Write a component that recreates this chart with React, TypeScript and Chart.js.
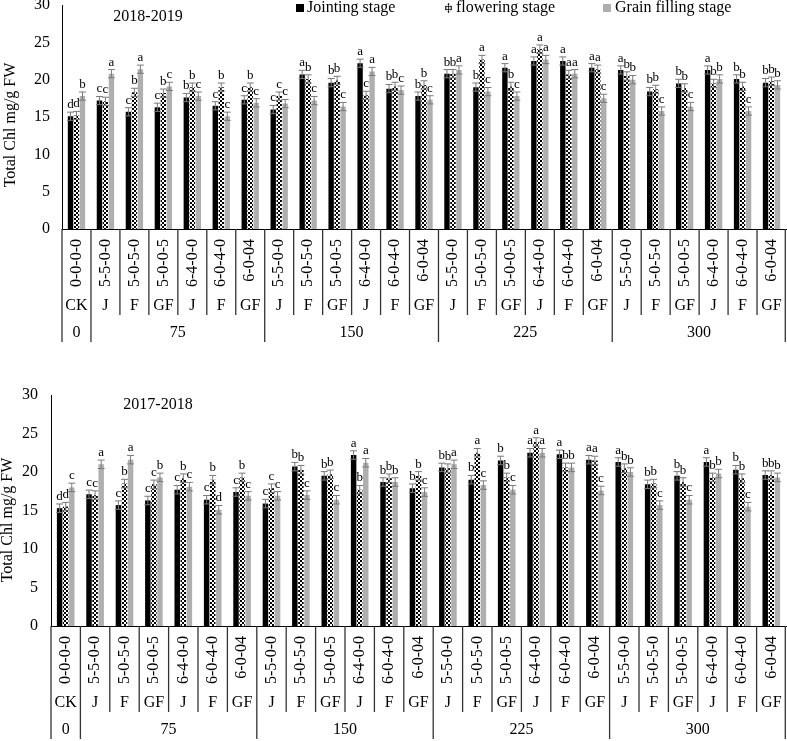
import { useEffect, useRef } from 'react';
import { Chart, registerables } from 'chart.js';

Chart.register(...registerables);

const FONT = '"Liberation Serif", "Times New Roman", serif';

// category axis: fertilizer code / stage / N level
const CODES = [
    '0-0-0-0',
    '5-5-0-0', '5-0-5-0', '5-0-0-5', '6-4-0-0', '6-0-4-0', '6-0-04',
    '5-5-0-0', '5-0-5-0', '5-0-0-5', '6-4-0-0', '6-0-4-0', '6-0-04',
    '5-5-0-0', '5-0-5-0', '5-0-0-5', '6-4-0-0', '6-0-4-0', '6-0-04',
    '5-5-0-0', '5-0-5-0', '5-0-0-5', '6-4-0-0', '6-0-4-0', '6-0-04',
];
const STAGES = [
    'CK',
    'J', 'F', 'GF', 'J', 'F', 'GF',
    'J', 'F', 'GF', 'J', 'F', 'GF',
    'J', 'F', 'GF', 'J', 'F', 'GF',
    'J', 'F', 'GF', 'J', 'F', 'GF',
];
const N_LEVELS = ['0', '75', '150', '225', '300'];
const N_SPANS = [1, 6, 6, 6, 6];
const SERIES = ['Jointing stage', 'flowering stage', 'Grain filling stage'];
const ERR = 0.55;

// 2018-2019
const JOINT_1819 = [15.1, 17.2, 15.7, 16.3, 17.6, 16.5, 17.3, 16.0, 20.7, 19.6, 22.2, 18.8, 17.8, 20.8, 19.0, 21.6, 22.5, 22.5, 21.6, 21.3, 18.4, 19.5, 21.3, 20.1, 19.6];
const FLOWER_1819 = [15.2, 17.1, 18.3, 18.2, 19.0, 19.0, 19.0, 17.8, 20.1, 19.9, 17.9, 19.1, 19.3, 20.8, 22.7, 19.1, 24.1, 20.7, 21.4, 20.5, 18.7, 18.9, 19.5, 19.1, 19.8];
const GRAIN_1819 = [17.8, 20.8, 21.4, 19.1, 17.8, 15.1, 16.9, 16.8, 17.2, 16.4, 21.1, 18.6, 17.3, 21.3, 18.4, 17.8, 22.7, 20.8, 17.5, 20.0, 15.8, 16.4, 20.1, 15.8, 19.3];
const JOINT_LET_1819 = ['d', 'c', 'c', 'c', 'b', 'c', 'c', 'c', 'a', 'b', 'a', 'b', 'b', 'b', 'b', 'a', 'a', 'a', 'a', 'a', 'b', 'b', 'a', 'b', 'b'];
const FLOWER_LET_1819 = ['d', 'c', 'b', 'b', 'b', 'b', 'b', 'c', 'b', 'b', 'c', 'b', 'b', 'b', 'a', 'b', 'a', 'a', 'a', 'b', 'b', 'b', 'b', 'b', 'b'];
const GRAIN_LET_1819 = ['b', 'a', 'a', 'c', 'c', 'c', 'c', 'c', 'c', 'c', 'a', 'c', 'c', 'a', 'c', 'c', 'a', 'a', 'c', 'b', 'c', 'c', 'b', 'c', 'b'];

// 2017-2018
const JOINT_1718 = [15.3, 17.1, 15.7, 16.3, 17.7, 16.4, 17.4, 15.9, 20.7, 19.5, 22.2, 18.7, 17.9, 20.6, 19.0, 21.5, 22.5, 22.3, 21.6, 21.3, 18.4, 19.5, 21.3, 20.3, 19.6];
const FLOWER_1718 = [15.5, 17.0, 18.5, 18.4, 19.2, 19.0, 19.3, 17.9, 20.3, 19.7, 17.7, 19.2, 19.5, 20.5, 22.5, 19.3, 23.9, 20.6, 21.5, 20.5, 18.5, 18.7, 19.3, 19.2, 19.6];
const GRAIN_1718 = [18.0, 21.0, 21.6, 19.3, 18.1, 15.1, 16.9, 16.9, 17.0, 16.4, 21.2, 18.7, 17.4, 21.0, 18.3, 17.7, 22.5, 20.6, 17.6, 20.0, 15.7, 16.4, 19.8, 15.5, 19.3];
const JOINT_LET_1718 = ['d', 'c', 'c', 'c', 'c', 'c', 'c', 'c', 'b', 'b', 'a', 'b', 'b', 'b', 'b', 'b', 'a', 'a', 'a', 'a', 'b', 'b', 'a', 'b', 'b'];
const FLOWER_LET_1718 = ['d', 'c', 'b', 'c', 'b', 'b', 'b', 'c', 'b', 'b', 'b', 'b', 'b', 'b', 'a', 'b', 'a', 'b', 'a', 'b', 'b', 'b', 'b', 'b', 'b'];
const GRAIN_LET_1718 = ['c', 'a', 'a', 'b', 'c', 'd', 'c', 'c', 'c', 'c', 'a', 'b', 'c', 'a', 'c', 'c', 'a', 'b', 'c', 'b', 'c', 'c', 'b', 'c', 'b'];

function checkerPattern(): CanvasPattern | string {
    const c = document.createElement('canvas');
    c.width = 4;
    c.height = 4;
    const g = c.getContext('2d');
    if (!g) return '#000';
    g.fillStyle = '#fff';
    g.fillRect(0, 0, 4, 4);
    g.fillStyle = '#000';
    g.fillRect(0, 0, 2, 2);
    g.fillRect(2, 2, 2, 2);
    return g.createPattern(c, 'repeat') ?? '#000';
}

interface PanelProps {
    title: string;
    values: number[][];
    letters: string[][];
    height: number;
    axisLeft: number;
    padTop: number;
    xHeight: number;
    tickPad: number;
    titleX: number;
    titleY: number;
    yTitleX: number;
    yTitleY: number;
    showLegend: boolean;
}

function Panel(p: PanelProps) {
    const canvasRef = useRef<HTMLCanvasElement>(null);

    useEffect(() => {
        if (!canvasRef.current) return;
        const pattern = checkerPattern();
        const colors: (string | CanvasPattern)[] = ['#000000', pattern, '#afafaf'];

        const decor = {
            id: 'panelDecor',
            afterDatasetsDraw(chart: Chart) {
                const ctx = chart.ctx;
                const y = chart.scales.y;
                ctx.save();
                p.values.forEach((vals, di) => {
                    const meta = chart.getDatasetMeta(di);
                    vals.forEach((v, j) => {
                        const el: any = meta.data[j];
                        const x = el.x;
                        const yt = y.getPixelForValue(v + ERR);
                        const yb = y.getPixelForValue(v - ERR);
                        ctx.strokeStyle = '#7a7a7a';
                        ctx.lineWidth = 1;
                        ctx.beginPath();
                        ctx.moveTo(x, yt);
                        ctx.lineTo(x, yb);
                        ctx.moveTo(x - 3.5, yt);
                        ctx.lineTo(x + 3.5, yt);
                        ctx.moveTo(x - 3.5, yb);
                        ctx.lineTo(x + 3.5, yb);
                        ctx.stroke();
                        ctx.fillStyle = '#000';
                        ctx.font = `13px ${FONT}`;
                        ctx.textAlign = 'center';
                        ctx.textBaseline = 'bottom';
                        ctx.fillText(p.letters[di][j], x, yt - 1);
                    });
                });
                ctx.restore();
            },
            afterDraw(chart: Chart) {
                const ctx = chart.ctx;
                const { left, right, bottom } = chart.chartArea;
                const xs = chart.scales.x;
                const ys = chart.scales.y;
                const w = (right - left) / CODES.length;
                ctx.save();
                ctx.fillStyle = '#000';
                ctx.font = `16px ${FONT}`;

                // y tick labels
                ctx.textAlign = 'right';
                ctx.textBaseline = 'middle';
                ys.ticks.forEach((t) => {
                    ctx.fillText(String(t.value), left - p.tickPad, ys.getPixelForValue(t.value));
                });

                // category labels
                CODES.forEach((code, i) => {
                    const cx = xs.getPixelForValue(i);
                    ctx.save();
                    ctx.translate(cx, bottom + 10);
                    ctx.rotate(-Math.PI / 2);
                    ctx.textAlign = 'right';
                    ctx.textBaseline = 'middle';
                    ctx.fillText(code, 0, 0);
                    ctx.restore();
                    ctx.textAlign = 'center';
                    ctx.textBaseline = 'middle';
                    ctx.fillText(STAGES[i], cx, bottom + 77);
                });

                // separators
                const groupEdges = [0];
                N_SPANS.forEach((s) => groupEdges.push(groupEdges[groupEdges.length - 1] + s));
                ctx.strokeStyle = '#333';
                ctx.lineWidth = 1.3;
                for (let k = 0; k <= CODES.length; k++) {
                    const x = Math.min(left + k * w, right - 0.7);
                    const len = groupEdges.includes(k) ? 113 : 86;
                    ctx.beginPath();
                    ctx.moveTo(x, bottom);
                    ctx.lineTo(x, bottom + len);
                    ctx.stroke();
                }

                // N levels
                ctx.textAlign = 'center';
                ctx.textBaseline = 'middle';
                N_LEVELS.forEach((lvl, g) => {
                    const cx = left + (groupEdges[g] + N_SPANS[g] / 2) * w;
                    ctx.fillText(lvl, cx, bottom + 104);
                });

                // panel title
                ctx.fillText(p.title, p.titleX, p.titleY);

                // y title
                ctx.save();
                ctx.translate(p.yTitleX, p.yTitleY);
                ctx.rotate(-Math.PI / 2);
                ctx.fillText('Total Chl mg/g FW', 0, 0);
                ctx.restore();

                // legend
                if (p.showLegend) {
                    const items = [
                        { x: 296, tx: 307 },
                        { x: 444, tx: 456 },
                        { x: 603, tx: 615 },
                    ];
                    items.forEach((it, i) => {
                        ctx.fillStyle = colors[i] as any;
                        if (i === 1) {
                            ctx.save();
                            ctx.translate(it.x + 4.5, 8);
                            ctx.rotate(Math.PI / 4);
                            ctx.fillRect(-3.5, -3.5, 7, 7);
                            ctx.restore();
                        } else {
                            ctx.fillRect(it.x, 4, 8, 8);
                        }
                        ctx.fillStyle = '#000';
                        ctx.textAlign = 'left';
                        ctx.fillText(SERIES[i], it.tx, 8);
                    });
                }
                ctx.restore();
            },
        };

        const chart = new Chart(canvasRef.current, {
            type: 'bar',
            data: {
                labels: CODES,
                datasets: p.values.map((vals, i) => ({
                    label: SERIES[i],
                    data: vals,
                    backgroundColor: colors[i] as any,
                    borderWidth: 0,
                    categoryPercentage: 0.62,
                    barPercentage: 0.9,
                })),
            },
            options: {
                responsive: true,
                maintainAspectRatio: false,
                animation: false,
                layout: { padding: { top: p.padTop, right: 1, left: 0, bottom: 0 } },
                plugins: {
                    legend: { display: false },
                    tooltip: { enabled: false },
                },
                scales: {
                    x: {
                        grid: { display: false },
                        ticks: { display: false },
                        border: { display: true, color: '#000', width: 1 },
                        afterFit: (s: any) => { s.height = p.xHeight; },
                    },
                    y: {
                        min: 0,
                        max: 30,
                        ticks: { stepSize: 5, display: false },
                        grid: { display: false, drawTicks: false },
                        border: { display: true, color: '#000', width: 1 },
                        afterFit: (s: any) => { s.width = p.axisLeft; },
                    },
                },
            },
            plugins: [decor],
        });

        return () => chart.destroy();
    }, [p]);

    return (
        <div style={{ position: 'relative', width: 787, height: p.height }}>
            <canvas ref={canvasRef} />
        </div>
    );
}

const TOP: PanelProps = {
    title: '2018-2019',
    values: [JOINT_1819, FLOWER_1819, GRAIN_1819],
    letters: [JOINT_LET_1819, FLOWER_LET_1819, GRAIN_LET_1819],
    height: 360,
    axisLeft: 62,
    padTop: 5,
    xHeight: 131,
    tickPad: 12,
    titleX: 148,
    titleY: 17,
    yTitleX: 11,
    yTitleY: 125,
    showLegend: true,
};

const BOTTOM: PanelProps = {
    title: '2017-2018',
    values: [JOINT_1718, FLOWER_1718, GRAIN_1718],
    letters: [JOINT_LET_1718, FLOWER_LET_1718, GRAIN_LET_1718],
    height: 381,
    axisLeft: 51,
    padTop: 35,
    xHeight: 115,
    tickPad: 13,
    titleX: 158,
    titleY: 45,
    yTitleX: 8,
    yTitleY: 160,
    showLegend: false,
};

export default function App() {
    return (
        <div style={{ position: 'absolute', left: 0, top: 0, width: 787, height: 741, background: '#fff' }}>
            <Panel {...TOP} />
            <Panel {...BOTTOM} />
        </div>
    );
}
